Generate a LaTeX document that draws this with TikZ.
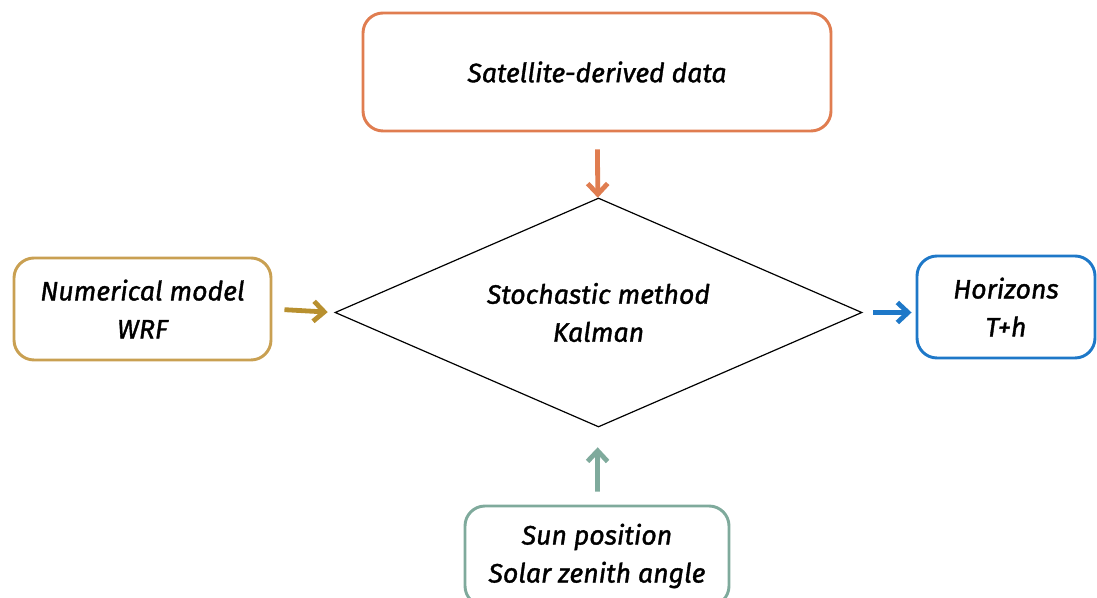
\documentclass[tikz,border=0pt]{standalone}
\usepackage{fontspec}
\setmainfont{Fira Sans}[ItalicFeatures={FakeBold=1.3}]
\usetikzlibrary{shapes.geometric,arrows.meta}
\definecolor{cOrange}{HTML}{E07D50}
\definecolor{cGold}{HTML}{C9A052}
\definecolor{cGoldA}{HTML}{B8902F}
\definecolor{cBlue}{HTML}{1E78C8}
\definecolor{cTeal}{HTML}{7FAA9C}
\tikzset{
  lbl/.style={align=center, font=\fontsize{20}{28.5}\selectfont\itshape},
  box/.style={draw, line width=2.2pt, rounded corners=15pt, fill=white, lbl, inner sep=0pt},
  arr/.style={line width=3.6pt, -{Straight Barb[length=8pt,width=15pt,line width=3.6pt]}},
}
\begin{document}
\begin{tikzpicture}[x=0.75pt,y=-0.75pt]
\useasboundingbox (0,0) rectangle (1097,598);
\clip (0,0) rectangle (1097,598);
\node[box, draw=cOrange, minimum width=468*0.75pt, minimum height=118*0.75pt] (sat) at (597,72) {Satellite-derived data};
\node[box, draw=cGold, minimum width=257*0.75pt, minimum height=102*0.75pt] (wrf) at (142.5,309) {Numerical model\\WRF};
\node[box, draw=cBlue, minimum width=178*0.75pt, minimum height=102*0.75pt] (hor) at (1006,307) {Horizons\\T+h};
\node[box, draw=cTeal, minimum width=264*0.75pt, minimum height=100*0.75pt] (sun) at (597,556) {Sun position\\Solar zenith angle};
\node[diamond, aspect=2.3, draw=black, line width=0.9pt, minimum width=527*0.75pt, minimum height=229*0.75pt, inner sep=0pt, lbl] (dia) at (598.5,312.5) {Stochastic method\\Kalman};
\draw[arr, cOrange, shorten <=12.75pt] (sat) -- (dia);
\draw[arr, cGoldA, shorten <=9pt, shorten >=5pt] (wrf.east) -- (dia.west);
\draw[arr, cBlue, shorten <=8pt, shorten >=3pt] (dia.east) -- (hor.west |- dia.east);
\draw[arr, cTeal, shorten <=9.75pt, shorten >=15pt] (sun) -- (dia);
\end{tikzpicture}
\end{document}
